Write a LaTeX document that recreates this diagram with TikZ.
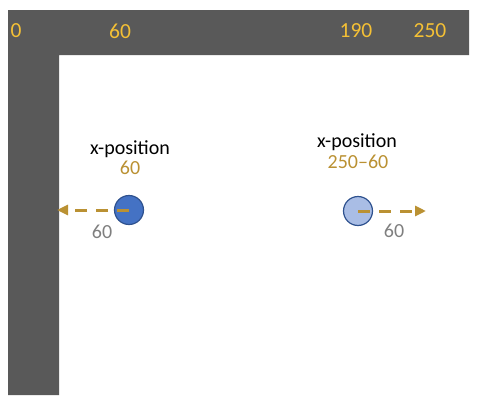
\documentclass[tikz,border=0pt]{standalone}
\usepackage{fontspec}
\setmainfont{Carlito}
\usetikzlibrary{arrows.meta}
\definecolor{barcol}{HTML}{595959}
\definecolor{topgold}{HTML}{F4C035}
\definecolor{gold}{HTML}{BA9133}
\definecolor{lblgray}{HTML}{7F7F7F}
\definecolor{dkblue}{HTML}{4472C4}
\definecolor{ltblue}{HTML}{A9BDE5}
\definecolor{edgeblue}{HTML}{2F528F}
\begin{document}
\begin{tikzpicture}[x=1pt,y=-1pt,
  txt/.style={font=\fontsize{20}{24}\selectfont, inner sep=0pt, anchor=center},
  toplbl/.style={txt, font=\fontsize{21.5}{25}\selectfont, text=topgold},
  poslbl/.style={txt, text=black},
  vallbl/.style={txt, text=gold},
  distlbl/.style={txt, text=lblgray},
  ball/.style={circle, draw=edgeblue, line width=1.2pt, minimum size=29pt, inner sep=0pt},
  movearrow/.style={draw=gold, line width=3pt, dash pattern=on 12pt off 9pt,
    -{Triangle[length=11pt,width=10pt]}, gold}
]
\useasboundingbox (0,0) rectangle (480,410);
\fill[barcol] (8,10) -- (469,10) -- (469,55) -- (59,55) -- (59,395) -- (8,395) -- cycle;
\node[toplbl] (t0) at (16,31) {0};
\node[toplbl] (t60) at (120,31) {60};
\node[toplbl] (t190) at (356,31) {190};
\node[toplbl] (t250) at (430,31) {250};
% left ball
\node[poslbl] (lpos) at (130,149) {x-position};
\node[vallbl] (lval) at (130,168) {60};
\node[ball, fill=dkblue] (lc) at (129,210) {};
\coordinate (lend) at (57,210);
\draw[movearrow] (lc.center) -- (lend);
\node[distlbl] (ldist) at (102,232) {60};
% right ball
\node[poslbl] (rpos) at (357,142) {x-position};
\node[vallbl] (rval) at (358,162) {250–60};
\node[ball, fill=ltblue] (rc) at (358,211) {};
\coordinate (rend) at (426,211);
\draw[movearrow] (rc.center) -- (rend);
\node[distlbl] (rdist) at (394,231) {60};
\end{tikzpicture}
\end{document}
